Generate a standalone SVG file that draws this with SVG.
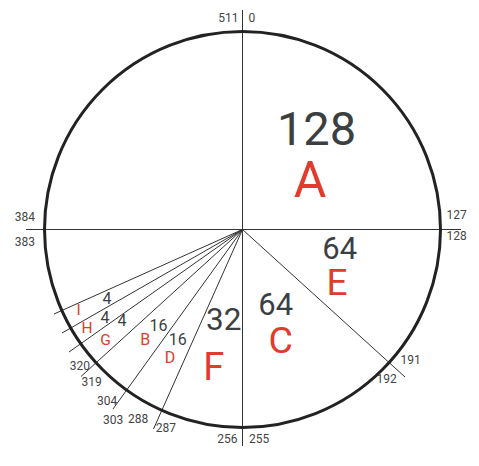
<svg xmlns="http://www.w3.org/2000/svg" width="479" height="466" viewBox="0 0 479 466">
<style>
.ln{stroke:#333;stroke-width:1;fill:none}
.num{font-family:Roboto,"Liberation Sans",sans-serif;fill:#3c3f42;text-anchor:middle}
.lab{font-family:Roboto,"Liberation Sans",sans-serif;fill:#e03c2d;text-anchor:middle}
.tick{font-family:Roboto,"Liberation Sans",sans-serif;fill:#444;font-size:12px}
</style>
<rect width="479" height="466" fill="#fff"/>
<g id="connectors">
<line class="ln" x1="242.5" y1="10" x2="242.5" y2="446"/>
<line class="ln" x1="26" y1="229.5" x2="461" y2="229.5"/>
<line class="ln" x1="242.5" y1="229.5" x2="405" y2="377"/>
<line class="ln" x1="242.5" y1="229.5" x2="54" y2="314"/>
<line class="ln" x1="242.5" y1="229.5" x2="62" y2="333"/>
<line class="ln" x1="242.5" y1="229.5" x2="69" y2="352"/>
<line class="ln" x1="242.5" y1="229.5" x2="81" y2="376.5"/>
<line class="ln" x1="242.5" y1="229.5" x2="113" y2="409"/>
<line class="ln" x1="242.5" y1="229.5" x2="153.5" y2="429"/>
</g>
<g id="circle">
<circle cx="242.5" cy="229.5" r="198" fill="none" stroke="#222" stroke-width="3"/>
</g>
<g id="A">
<text class="num" x="316.5" y="145" font-size="47">128</text>
<text class="lab" x="310" y="197" font-size="50">A</text>
</g>
<g id="E">
<text class="num" x="339.7" y="259.3" font-size="31">64</text>
<text class="lab" x="337" y="295" font-size="37">E</text>
</g>
<g id="C">
<text class="num" x="275.8" y="315" font-size="31">64</text>
<text class="lab" x="280.7" y="353.3" font-size="37.5">C</text>
</g>
<g id="F">
<text class="num" x="223.8" y="330" font-size="31.5">32</text>
<text class="lab" x="213.7" y="380" font-size="38">F</text>
</g>
<g id="B">
<text class="num" x="158.5" y="331" font-size="16">16</text>
<text class="lab" x="145.3" y="345" font-size="16">B</text>
</g>
<g id="D">
<text class="num" x="177.7" y="345" font-size="16">16</text>
<text class="lab" x="170" y="363.3" font-size="16">D</text>
</g>
<g id="I">
<text class="num" x="107" y="304" font-size="16">4</text>
<text class="lab" x="78.5" y="315" font-size="15.5">I</text>
</g>
<g id="H">
<text class="num" x="105" y="323.3" font-size="16">4</text>
<text class="lab" x="87" y="332.7" font-size="15.5">H</text>
</g>
<g id="G">
<text class="num" x="122" y="326" font-size="16">4</text>
<text class="lab" x="105.5" y="345" font-size="15.5">G</text>
</g>
<g id="ticks">
<text class="tick" x="238.5" y="21.7" text-anchor="end">511</text>
<text class="tick" x="248.5" y="21.7">0</text>
<text class="tick" x="446.5" y="219">127</text>
<text class="tick" x="446.5" y="240">128</text>
<text class="tick" x="400.5" y="364.3">191</text>
<text class="tick" x="376.5" y="383.3">192</text>
<text class="tick" x="237.5" y="442.7" text-anchor="end">256</text>
<text class="tick" x="249" y="442.7">255</text>
<text class="tick" x="176" y="431.7" text-anchor="end">287</text>
<text class="tick" x="148.3" y="422.7" text-anchor="end">288</text>
<text class="tick" x="123.3" y="424" text-anchor="end">303</text>
<text class="tick" x="117.3" y="405" text-anchor="end">304</text>
<text class="tick" x="101.7" y="386" text-anchor="end">319</text>
<text class="tick" x="90" y="370" text-anchor="end">320</text>
<text class="tick" x="35" y="220.7" text-anchor="end">384</text>
<text class="tick" x="35" y="245.7" text-anchor="end">383</text>
</g>
</svg>
